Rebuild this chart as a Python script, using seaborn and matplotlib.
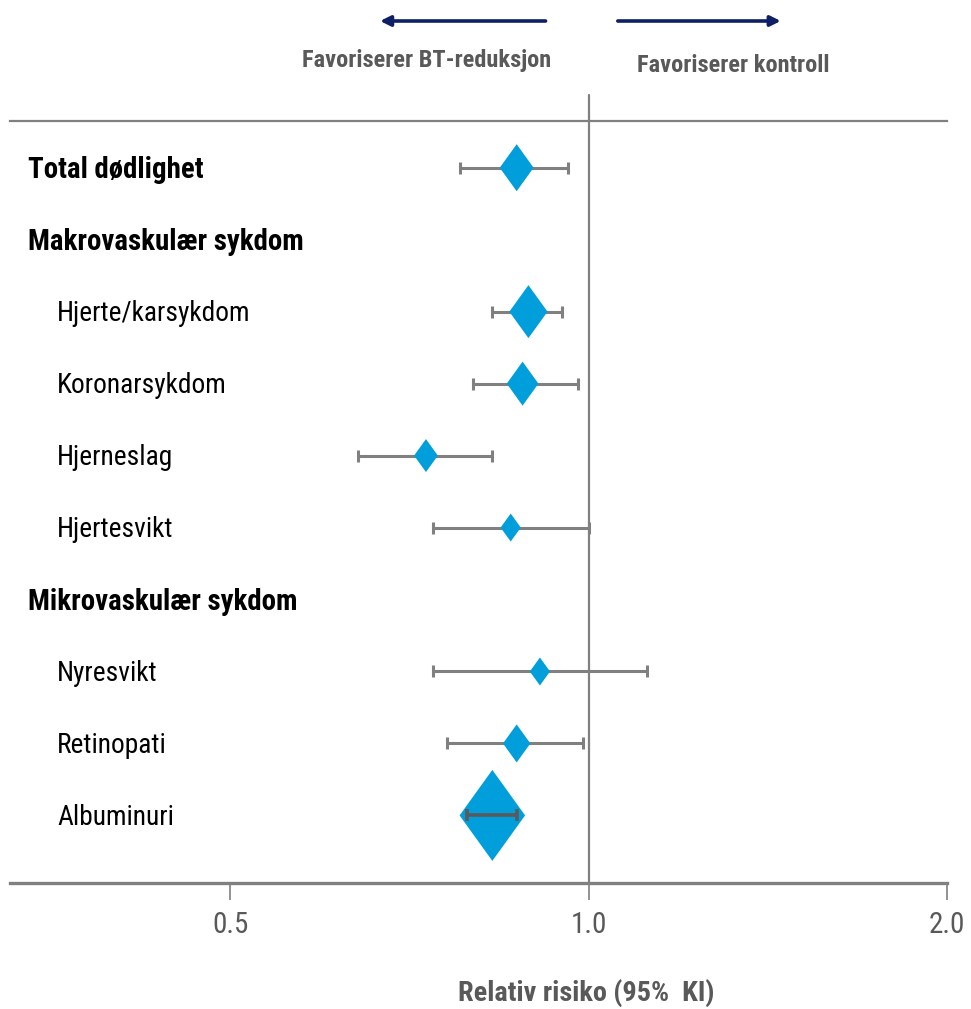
import matplotlib
matplotlib.use("Agg")
import matplotlib.pyplot as plt
import matplotlib.transforms as mtransforms
from matplotlib.path import Path
from matplotlib.ticker import FixedLocator, FixedFormatter, NullLocator
import numpy as np
import pandas as pd
import seaborn as sns

# Rows of the forest plot, top to bottom (headings have no estimate)
labels = ["Total dødlighet", "Makrovaskulær sykdom", "Hjerte/karsykdom",
          "Koronarsykdom", "Hjerneslag", "Hjertesvikt",
          "Mikrovaskulær sykdom", "Nyresvikt", "Retinopati", "Albuminuri"]
is_heading = [True, True, False, False, False, False, True, False, False, False]
rr = [0.87, None, 0.89, 0.88, 0.73, 0.86, None, 0.91, 0.87, 0.83]
ci_low = [0.78, None, 0.83, 0.80, 0.64, 0.74, None, 0.74, 0.76, 0.79]
ci_high = [0.96, None, 0.95, 0.98, 0.83, 1.00, None, 1.12, 0.99, 0.87]
# relative weight of each estimate (diamond height, px)
weight = [47, None, 53, 44, 33, 28, None, 28, 38, 91]

x_ticks = [0.5, 1.0, 2.0]
x_ticklabels = ["0.5", "1.0", "2.0"]
x_label = "Relativ risiko (95%  KI)"
left_note = "Favoriserer BT-reduksjon"
right_note = "Favoriserer kontroll"

sns.set_theme(style="white")
FONT = ["Roboto Condensed", "Liberation Sans", "DejaVu Sans"]
plt.rcParams["font.family"] = FONT

DPI = 100
fig = plt.figure(figsize=(9.71, 10.09), dpi=DPI)
W, H = 971, 1009
ax_left, ax_right, ax_top, ax_bottom = 10, 947, 121, 883
ax = fig.add_axes([ax_left / W, 1 - ax_bottom / H,
                   (ax_right - ax_left) / W, (ax_bottom - ax_top) / H])

df = pd.DataFrame({"label": labels, "heading": is_heading, "rr": rr,
                   "lo": ci_low, "hi": ci_high, "w": weight})
df["row"] = np.arange(len(df))
est = df.dropna(subset=["rr"]).copy()
est = est.astype({"rr": float, "lo": float, "hi": float, "w": float})

gray = "#808080"
blue = "#009fdb"
text_gray = "#595959"

# confidence intervals behind the diamonds
normal = est[est["label"] != "Albuminuri"]
ax.errorbar(normal["rr"], normal["row"],
            xerr=[normal["rr"] - normal["lo"], normal["hi"] - normal["rr"]],
            fmt="none", ecolor=gray, elinewidth=2.2, capsize=4.5, capthick=2.2,
            zorder=2)

# diamonds, taller than wide, sized by weight
diamond = Path([(0, 1), (0.72, 0), (0, -1), (-0.72, 0), (0, 1)],
               [Path.MOVETO, Path.LINETO, Path.LINETO, Path.LINETO, Path.CLOSEPOLY])
sizes_pt = est["w"] * 72 / DPI
sns.scatterplot(data=est, x="rr", y="row", marker=diamond, s=sizes_pt ** 2,
                color=blue, edgecolor="none", linewidth=0, ax=ax, zorder=3,
                legend=False)

# the narrow albuminuria interval sits on top of its large diamond
alb = est[est["label"] == "Albuminuri"]
ax.errorbar(alb["rr"], alb["row"],
            xerr=[alb["rr"] - alb["lo"], alb["hi"] - alb["rr"]],
            fmt="none", ecolor="#5a5a5a", elinewidth=2.6, capsize=4.5, capthick=2.6,
            zorder=4)

# reference line at RR = 1
ax.axvline(1.0, ymin=0, ymax=1 + 26 / (ax_bottom - ax_top), color=gray,
           lw=1.6, clip_on=False, zorder=1)

ax.set_xscale("log", base=2)
ax.set_xlim(0.3265, 2.0)
row_px = 72.4
ax.set_ylim(9 + 68 / row_px, -47 / row_px)
ax.xaxis.set_major_locator(FixedLocator(x_ticks))
ax.xaxis.set_major_formatter(FixedFormatter(x_ticklabels))
ax.xaxis.set_minor_locator(NullLocator())
ax.set_yticks([])
ax.set_xlabel("")
ax.set_ylabel("")
ax.tick_params(axis="x", which="major", direction="out", length=12, width=1.2,
               color=gray, labelcolor=text_gray, labelsize=21, pad=8,
               bottom=True)
for lab in ax.get_xticklabels():
    lab.set_family(FONT)

for side in ["left", "right"]:
    ax.spines[side].set_visible(False)
ax.spines["top"].set_color(gray)
ax.spines["top"].set_linewidth(1.6)
ax.spines["bottom"].set_color(gray)
ax.spines["bottom"].set_linewidth(2.4)

# row labels: headings bold at the margin, outcomes indented
row_tf = mtransforms.blended_transform_factory(ax.transAxes, ax.transData)
span = ax_right - ax_left
for _, r in df.iterrows():
    x0 = ((28 if r["heading"] else 57) - ax_left) / span
    ax.text(x0, r["row"] + 0.03, r["label"], transform=row_tf,
            ha="left", va="center", fontsize=20.8 if r["heading"] else 19.7,
            fontweight="bold" if r["heading"] else "normal", color="black",
            family=FONT)

# direction arrows and notes above the plot
navy = "#0f1f66"
def yfrac(py):
    return (ax_bottom - py) / (ax_bottom - ax_top)

arrow_kw = dict(arrowstyle="-|>", color=navy, lw=2.6, mutation_scale=15,
                shrinkA=0, shrinkB=0)
ax.annotate("", xy=(0.668, yfrac(21)), xytext=(0.920, yfrac(21)),
            xycoords=("data", "axes fraction"), textcoords=("data", "axes fraction"),
            arrowprops=arrow_kw, annotation_clip=False)
ax.annotate("", xy=(1.450, yfrac(21)), xytext=(1.058, yfrac(21)),
            xycoords=("data", "axes fraction"), textcoords=("data", "axes fraction"),
            arrowprops=arrow_kw, annotation_clip=False)
note_tf = mtransforms.blended_transform_factory(ax.transData, ax.transAxes)
ax.text(0.731, yfrac(60), left_note, transform=note_tf,
        ha="center", va="center", fontsize=17.6, fontweight="bold", color=text_gray,
        family=FONT)
ax.text(1.322, yfrac(65), right_note, transform=note_tf,
        ha="center", va="center", fontsize=17.6, fontweight="bold", color=text_gray,
        family=FONT)

fig.text(586 / W, 1 - 993 / H, x_label, ha="center", va="center", fontsize=20.3,
         fontweight="bold", color=text_gray, family=FONT)

fig.savefig("out.png", dpi=DPI)
